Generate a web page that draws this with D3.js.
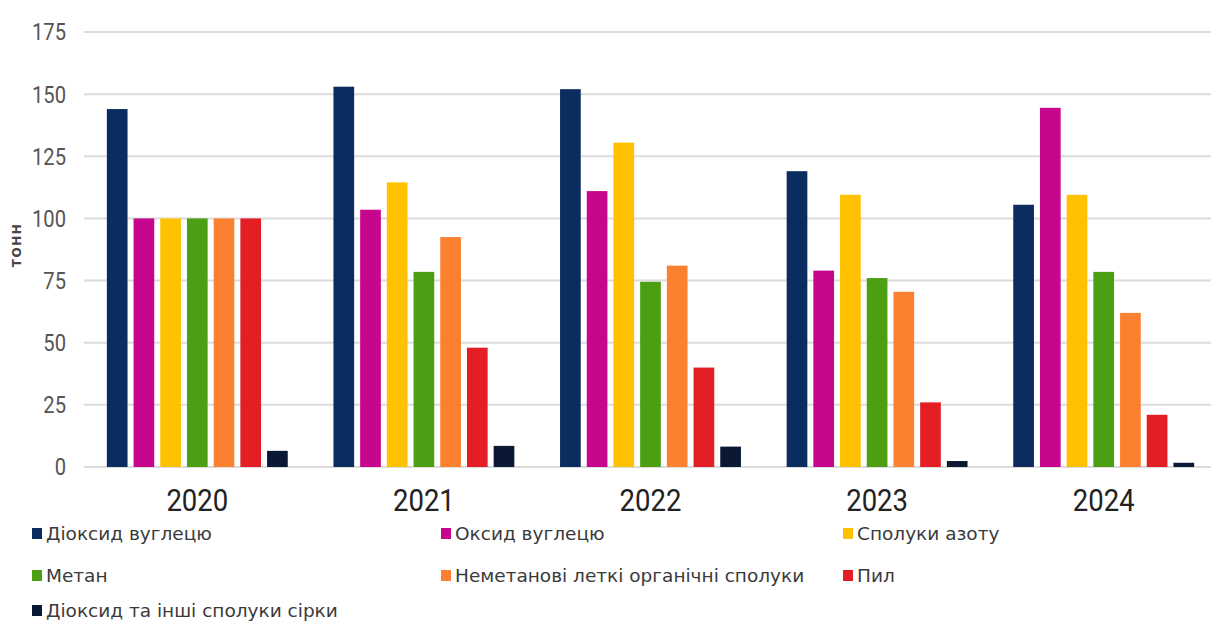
<!DOCTYPE html>
<html><head><meta charset="utf-8">
<script src="https://cdn.jsdelivr.net/npm/d3@7/dist/d3.min.js"></script>
<style>
html,body{margin:0;padding:0;background:#fff;}
svg{display:block;}
</style></head>
<body>
<svg id="chart" width="1211" height="623"></svg>
<script>
const years = ["2020","2021","2022","2023","2024"];
const seriesNames = ["Діоксид вуглецю","Оксид вуглецю","Сполуки азоту","Метан","Неметанові леткі органічні сполуки","Пил","Діоксид та інші сполуки сірки"];
const seriesColors = ["#0b2c5e","#c6068c","#ffc100","#4c9f12","#fb8130","#e31f25","#0a1833"];
const co2    = [144, 153, 152, 119, 105.5];
const co     = [100, 103.5, 111, 79, 144.5];
const nitro  = [100, 114.5, 130.5, 109.5, 109.5];
const methane= [100, 78.5, 74.5, 76, 78.5];
const nmvoc  = [100, 92.5, 81, 70.5, 62];
const dust   = [100, 48, 40, 26, 21];
const sulfur = [6.5, 8.5, 8.2, 2.4, 1.7];
const yTicks = [0,25,50,75,100,125,150,175];
const yTitle = "ТОНН";

const allSeries = [co2, co, nitro, methane, nmvoc, dust, sulfur];
const svg = d3.select("#chart");

const x0 = d3.scaleBand().domain(years).range([84, 84 + 5*226.6]).padding(0);
const x1 = d3.scaleBand().domain(seriesNames).range([0, x0.bandwidth()]).paddingInner(0.225).paddingOuter(0.856);
const y = d3.scaleLinear().domain([0,175]).range([467, 32]);

// gridlines
svg.append("g").selectAll("line").data(yTicks).join("line")
  .attr("x1", 84).attr("x2", 1211)
  .attr("y1", d => y(d)).attr("y2", d => y(d))
  .attr("stroke", "#dcdcdc").attr("stroke-width", 2);

// y tick labels (condensed look)
svg.append("g").selectAll("text").data(yTicks).join("text")
  .attr("transform", d => `translate(66,${y(d)}) scale(0.84,1)`)
  .attr("dy", "0.35em")
  .attr("text-anchor", "end")
  .attr("font-family", "Roboto,'Noto Sans',sans-serif")
  .attr("font-size", 24).attr("fill", "#555")
  .text(d => d);

// y title
svg.append("text")
  .attr("transform", "translate(21,245) rotate(-90)")
  .attr("text-anchor", "middle")
  .attr("font-family", "'DejaVu Sans',sans-serif")
  .attr("font-size", 12).attr("font-weight", "bold")
  .attr("letter-spacing", 1.5).attr("fill", "#444")
  .text(yTitle);

// bars
const groups = svg.append("g").selectAll("g").data(years).join("g")
  .attr("transform", d => `translate(${x0(d)},0)`);
groups.selectAll("rect")
  .data((yr, i) => seriesNames.map((s, j) => ({s, j, v: allSeries[j][i]})))
  .join("rect")
  .attr("x", d => x1(d.s)).attr("width", x1.bandwidth())
  .attr("y", d => y(d.v)).attr("height", d => y(0) - y(d.v))
  .attr("fill", d => seriesColors[d.j]);

// x labels
svg.append("g").selectAll("text").data(years).join("text")
  .attr("transform", d => `translate(${x0(d) + x0.bandwidth()/2},511) scale(0.86,1)`)
  .attr("text-anchor", "middle")
  .attr("font-family", "Roboto,'Noto Sans',sans-serif")
  .attr("font-size", 32).attr("fill", "#222")
  .text(d => d);

// legend
const colX = [32, 441, 843];
const rowY = [534, 576, 611];
const leg = svg.append("g").selectAll("g").data(seriesNames).join("g")
  .attr("transform", (d, i) => `translate(${colX[i % 3]},${rowY[Math.floor(i / 3)]})`);
leg.append("rect").attr("x", 0).attr("y", -6).attr("width", 10).attr("height", 11)
  .attr("fill", (d, i) => seriesColors[i]);
leg.append("text").attr("x", 14).attr("y", 0).attr("dy", "0.35em")
  .attr("font-family", "'DejaVu Sans',sans-serif")
  .attr("font-size", 18.5).attr("fill", "#3a3a3a")
  .text(d => d);
</script>
</body></html>
